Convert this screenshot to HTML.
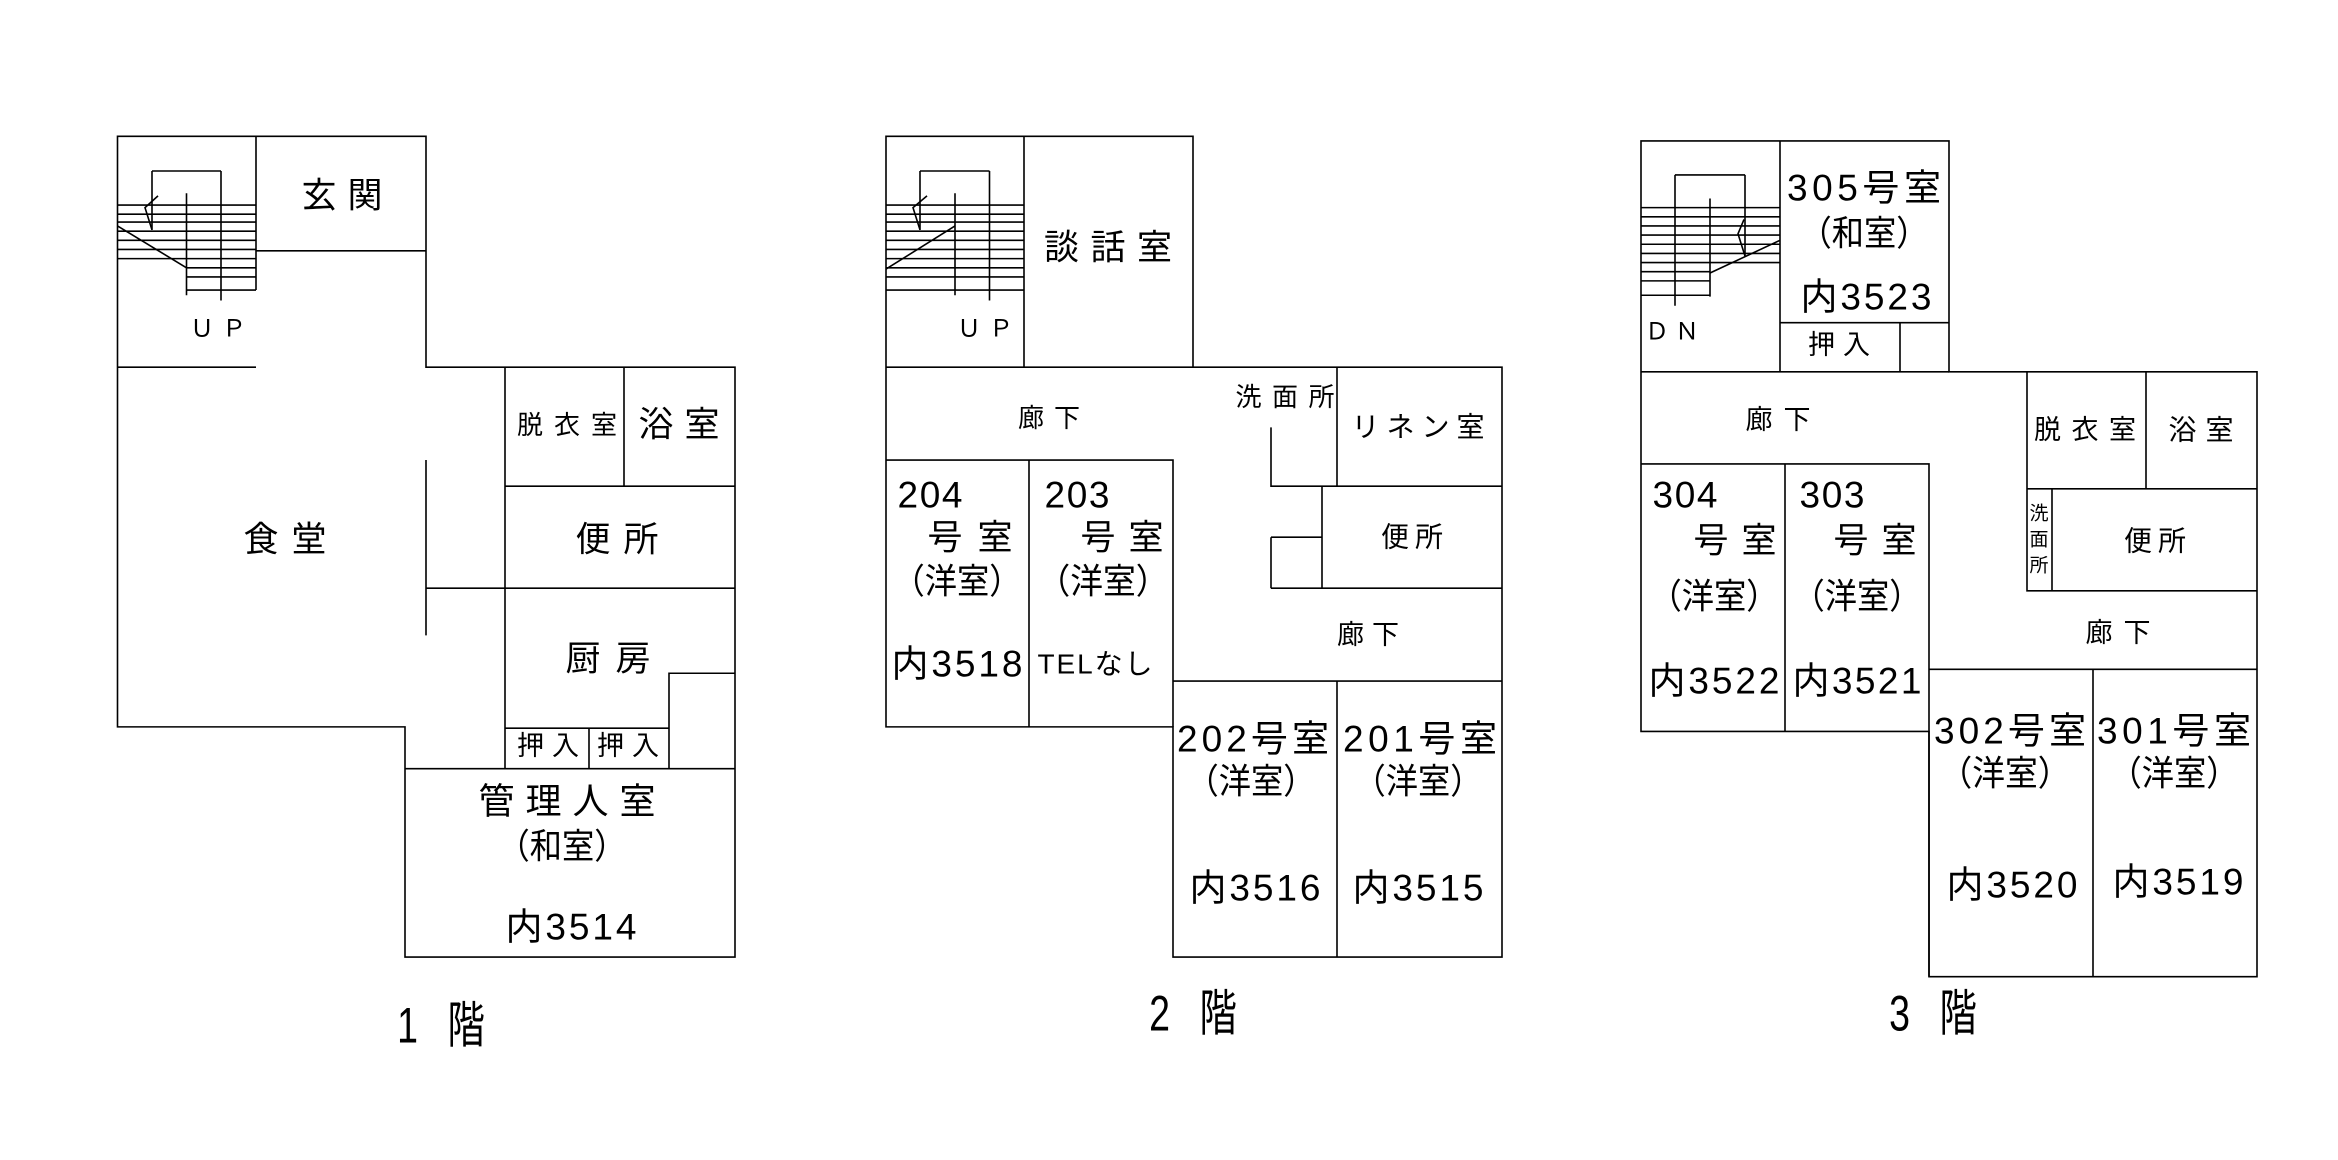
<!DOCTYPE html>
<html><head><meta charset="utf-8"><style>
html,body{margin:0;padding:0;background:#fff;width:2338px;height:1160px;overflow:hidden}
svg{display:block}
text{font-family:"Liberation Sans","Noto Sans CJK JP",sans-serif;fill:#000;text-anchor:middle;dominant-baseline:central}
path{vector-effect:non-scaling-stroke}
</style></head><body>
<svg width="2338" height="1160" viewBox="0 0 2338 1160" xmlns="http://www.w3.org/2000/svg">
<g transform="translate(0 120) scale(1 1.3079) translate(0 -120)">
<g stroke="#000" stroke-width="1.6" fill="none">
<!-- FLOOR 1 -->
<path d="M117.5,132.5 H426 V309 H735 V760 H405 V584 H117.5 Z"/>
<path d="M256,132.5 V250 M256,220 H426 M117.5,309 H256"/>
<path d="M505,309 V616 M624,309 V400 M505,400 H735 M426,478 H735 M426,380 V514"/>
<path d="M669,616 V543 H735 M505,585 H669 M589,585 V616 M405,616 H735"/>
<path d="M117.5,185 H256 M117.5,192 H256 M117.5,198 H256 M117.5,205 H256 M117.5,212 H256 M117.5,219 H256 M117.5,226 H256 M186.5,233 H256 M186.5,240 H256 M186.5,250 H256"/>
<path d="M186.5,176 V254 M221,159 V258 M152,159 H221 M152,159 V204"/>
<path d="M117.5,201 L186.5,233"/>
<path d="M158,178 L145,187 L152,204"/>
<!-- FLOOR 2 -->
<path d="M886,132.5 H1193 V309 H1502 V760 H1173 V584 H886 Z"/>
<path d="M1024,132.5 V309 M886,309 H1193"/>
<path d="M886,380 H1173 V584 M1029,380 V584"/>
<path d="M1337,309 V400 M1271,355 V400 H1502 M1322,400 V478 M1271,439 H1322 M1271,439 V478 M1271,478 H1502"/>
<path d="M1173,549 H1502 M1337,549 V760"/>
<path d="M886,185 H1024 M886,192 H1024 M886,198 H1024 M886,205 H1024 M886,212 H1024 M886,219 H1024 M886,226 H1024 M886,233 H1024 M886,240 H1024 M886,250 H1024"/>
<path d="M955,176 V254 M989.5,159 V258 M920,159 H989.5 M920,159 V204"/>
<path d="M886,234 L955,201"/>
<path d="M927,178 L913,187 L920,204"/>
<!-- FLOOR 3 -->
<path d="M1641,136 H1949 V312.5 H2257 V775 H1929 V587.5 H1641 Z"/>
<path d="M1780,136 V312.5 M1780,275 H1949 M1900,275 V312.5 M1641,312.5 H1949"/>
<path d="M1641,383 H1929 V775 M1785,383 V587.5"/>
<path d="M2027,312.5 V480 H2257 M2146,312.5 V402 M2027,402 H2257 M2052,402 V480"/>
<path d="M1929,540 H2257 M2093,540 V775"/>
<path d="M1641,187 H1780 M1641,194 H1780 M1641,201 H1780 M1641,208 H1780 M1641,215 H1780 M1641,222 H1780 M1641,229 H1780 M1641,236 H1710 M1641,243 H1710 M1641,254 H1710"/>
<path d="M1675,162 V262 M1710,180 V255 M1675,162 H1745 M1745,162 V224"/>
<path d="M1710,237 L1780,212"/>
<path d="M1744,196 L1738,207 L1745,224"/>
</g>
</g>
<g>
<!-- floor1 labels -->
<text x="218" y="329" font-size="24" textLength="56" lengthAdjust="spacing">ＵＰ</text>
<text x="342" y="196" font-size="35" textLength="81" lengthAdjust="spacing">玄関</text>
<text x="567" y="425" font-size="26" textLength="100" lengthAdjust="spacing">脱衣室</text>
<text x="679" y="425" font-size="35" textLength="81" lengthAdjust="spacing">浴室</text>
<text x="285" y="540" font-size="35" textLength="83" lengthAdjust="spacing">食堂</text>
<text x="617" y="540" font-size="35" textLength="83" lengthAdjust="spacing">便所</text>
<text x="608" y="659" font-size="35" textLength="85" lengthAdjust="spacing">厨房</text>
<text x="548" y="746" font-size="27" textLength="62" lengthAdjust="spacing">押入</text>
<text x="628" y="746" font-size="27" textLength="62" lengthAdjust="spacing">押入</text>
<text x="567" y="801" font-size="36" textLength="177" lengthAdjust="spacing">管理人室</text>
<text x="562" y="847" font-size="35" textLength="129" lengthAdjust="spacingAndGlyphs">（和室）</text>
<text x="571" y="927" font-size="37" textLength="131" lengthAdjust="spacing">内3514</text>
<text x="441" y="1026" font-size="50" transform="translate(441 0) scale(0.75 1) translate(-441 0)" textLength="117" lengthAdjust="spacing">1 階</text>
<!-- floor2 labels -->
<text x="985" y="329" font-size="24" textLength="56" lengthAdjust="spacing">ＵＰ</text>
<text x="1108" y="248" font-size="35" textLength="128" lengthAdjust="spacing">談話室</text>
<text x="1049" y="418" font-size="26" textLength="62" lengthAdjust="spacing">廊下</text>
<text x="1285" y="397" font-size="26" textLength="99" lengthAdjust="spacing">洗面所</text>
<text x="1418" y="427" font-size="28" textLength="133" lengthAdjust="spacing">リネン室</text>
<text x="1412" y="537" font-size="28" textLength="62" lengthAdjust="spacing">便所</text>
<text x="1368" y="635" font-size="27" textLength="62" lengthAdjust="spacing">廊下</text>
<text x="930" y="495" font-size="37" textLength="65" lengthAdjust="spacing">204</text>
<text x="970" y="538" font-size="35" textLength="85" lengthAdjust="spacing">号室</text>
<text x="957" y="582" font-size="35" textLength="129" lengthAdjust="spacingAndGlyphs">（洋室）</text>
<text x="957" y="664" font-size="37" textLength="131" lengthAdjust="spacing">内3518</text>
<text x="1077" y="495" font-size="37" textLength="65" lengthAdjust="spacing">203</text>
<text x="1122" y="538" font-size="35" textLength="83" lengthAdjust="spacing">号室</text>
<text x="1103" y="582" font-size="35" textLength="131" lengthAdjust="spacingAndGlyphs">（洋室）</text>
<text x="1095" y="664" font-size="28" textLength="115" lengthAdjust="spacing">TELなし</text>
<text x="1253" y="739" font-size="37" textLength="152" lengthAdjust="spacing">202号室</text>
<text x="1251" y="782" font-size="35" textLength="129" lengthAdjust="spacingAndGlyphs">（洋室）</text>
<text x="1255" y="888" font-size="37" textLength="131" lengthAdjust="spacing">内3516</text>
<text x="1420" y="739" font-size="37" textLength="154" lengthAdjust="spacing">201号室</text>
<text x="1418" y="782" font-size="35" textLength="129" lengthAdjust="spacingAndGlyphs">（洋室）</text>
<text x="1418" y="888" font-size="37" textLength="131" lengthAdjust="spacing">内3515</text>
<text x="1193" y="1014" font-size="50" transform="translate(1193 0) scale(0.75 1) translate(-1193 0)" textLength="117" lengthAdjust="spacing">2 階</text>
<!-- floor3 labels -->
<text x="1672" y="332" font-size="24" textLength="54" lengthAdjust="spacing">ＤＮ</text>
<text x="1864" y="188" font-size="37" textLength="154" lengthAdjust="spacing">305号室</text>
<text x="1864" y="234" font-size="35" textLength="129" lengthAdjust="spacingAndGlyphs">（和室）</text>
<text x="1866" y="297" font-size="37" textLength="131" lengthAdjust="spacing">内3523</text>
<text x="1839" y="345" font-size="27" textLength="62" lengthAdjust="spacing">押入</text>
<text x="1778" y="420" font-size="27" textLength="65" lengthAdjust="spacing">廊下</text>
<text x="2085" y="430" font-size="27" textLength="102" lengthAdjust="spacing">脱衣室</text>
<text x="2201" y="430" font-size="28" textLength="65" lengthAdjust="spacing">浴室</text>
<text x="2039" y="514" font-size="19">洗</text>
<text x="2039" y="540" font-size="19">面</text>
<text x="2039" y="566" font-size="19">所</text>
<text x="2155" y="541" font-size="28" textLength="62" lengthAdjust="spacing">便所</text>
<text x="2118" y="633" font-size="27" textLength="65" lengthAdjust="spacing">廊下</text>
<text x="1685" y="495" font-size="37" textLength="65" lengthAdjust="spacing">304</text>
<text x="1735" y="541" font-size="35" textLength="83" lengthAdjust="spacing">号室</text>
<text x="1714" y="597" font-size="35" textLength="129" lengthAdjust="spacingAndGlyphs">（洋室）</text>
<text x="1714" y="681" font-size="37" textLength="131" lengthAdjust="spacing">内3522</text>
<text x="1832" y="495" font-size="37" textLength="65" lengthAdjust="spacing">303</text>
<text x="1875" y="541" font-size="35" textLength="83" lengthAdjust="spacing">号室</text>
<text x="1857" y="597" font-size="35" textLength="129" lengthAdjust="spacingAndGlyphs">（洋室）</text>
<text x="1857" y="681" font-size="37" textLength="129" lengthAdjust="spacing">内3521</text>
<text x="2010" y="731" font-size="37" textLength="152" lengthAdjust="spacing">302号室</text>
<text x="2005" y="774" font-size="35" textLength="131" lengthAdjust="spacingAndGlyphs">（洋室）</text>
<text x="2012" y="885" font-size="37" textLength="131" lengthAdjust="spacing">内3520</text>
<text x="2174" y="731" font-size="37" textLength="154" lengthAdjust="spacing">301号室</text>
<text x="2174" y="774" font-size="35" textLength="129" lengthAdjust="spacingAndGlyphs">（洋室）</text>
<text x="2178" y="882" font-size="37" textLength="131" lengthAdjust="spacing">内3519</text>
<text x="1933" y="1014" font-size="50" transform="translate(1933 0) scale(0.75 1) translate(-1933 0)" textLength="117" lengthAdjust="spacing">3 階</text>
</g>
</svg>
</body></html>
